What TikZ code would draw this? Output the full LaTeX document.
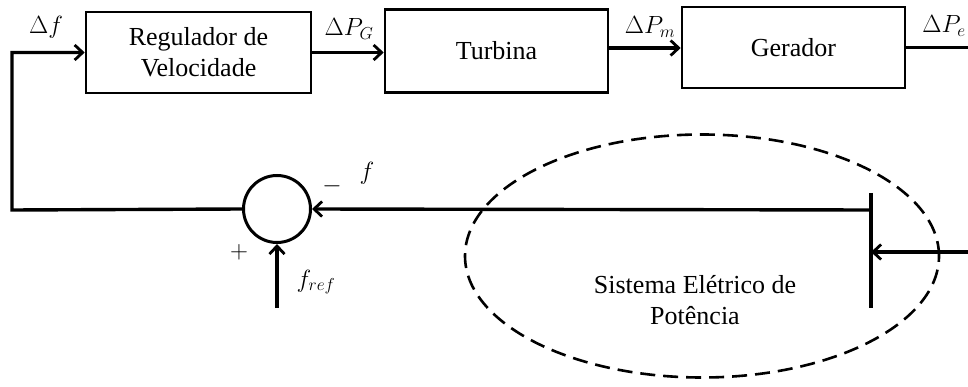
\documentclass[tikz,border=0pt]{standalone}
\usepackage{fontspec}
\setmainfont{Liberation Serif}
\usetikzlibrary{arrows.meta, shapes.geometric, positioning}

\tikzset{
  bloco/.style={draw, line width=2.6pt, align=center, inner sep=2pt},
  seta/.style={line width=3.4pt, -{Straight Barb[length=8pt,width=15pt,line width=2.8pt]}},
  linha/.style={line width=3.4pt},
  rotulo/.style={inner sep=0pt}
}

\begin{document}
\begin{tikzpicture}[x=1pt, y=-1pt, font=\fontsize{26}{31}\selectfont]
\useasboundingbox (0,0) rectangle (968,387);

% Sistema eletrico (tracejado)
\node[ellipse, draw, line width=2.6pt, dash pattern=on 15pt off 8pt,
      minimum width=474pt, minimum height=243pt] (sep) at (702,256) {};
\node[rotulo, align=center] (septxt) at (695,300) {Sistema Elétrico de\\Potência};

% Blocos da malha
\node[bloco, minimum width=225pt, minimum height=81pt] (reg) at (198.5,52.5) {Regulador de\\Velocidade};
\node[bloco, minimum width=223pt, minimum height=83pt] (turb) at (496.5,51) {Turbina};
\node[bloco, minimum width=223pt, minimum height=81pt] (ger) at (793.5,47.5) {Gerador};

% Somador
\node[circle, draw, line width=3pt, minimum size=67pt, inner sep=0pt] (soma) at (277,209) {};

% Barra e pontos auxiliares
\coordinate (bt) at (871,193);
\coordinate (bb) at (871,308);
\coordinate (b1) at (871,210);
\coordinate (b2) at (871,252);
\coordinate (entrada) at (968,252);
\coordinate (saida) at (968,47.5);
\coordinate (retorno) at (12,210);
\coordinate (fref) at (277,308);

\draw[line width=4pt] (bt) -- (bb);

% Conexoes
\draw[seta] (reg.east) -- (turb.west |- reg.east);
\draw[seta] (turb.east |- 0,48) -- (ger.west |- 0,48);
\draw[linha] (ger.east) -- (saida);
\draw[seta] (entrada) -- (b2);
\draw[seta] (b1) -- (soma.east);
\draw[seta] (soma.west) -- (retorno) |- (reg.west);
\draw[seta] (fref) -- (soma.south);

% Rotulos
\node[rotulo] (ldf) at (46,27) {$\Delta f$};
\node[rotulo] (ldpg) at (349,29) {$\Delta P_G$};
\node[rotulo] (ldpm) at (650,27) {$\Delta P_m$};
\node[rotulo] (ldpe) at (944,26) {$\Delta P_e$};
\node[rotulo] (lf) at (367,173) {$f$};
\node[rotulo] (lmenos) at (332,186) {$-$};
\node[rotulo] (lmais) at (239,252) {$+$};
\node[rotulo] (lfref) at (316,282) {$f_{ref}$};
\end{tikzpicture}
\end{document}
